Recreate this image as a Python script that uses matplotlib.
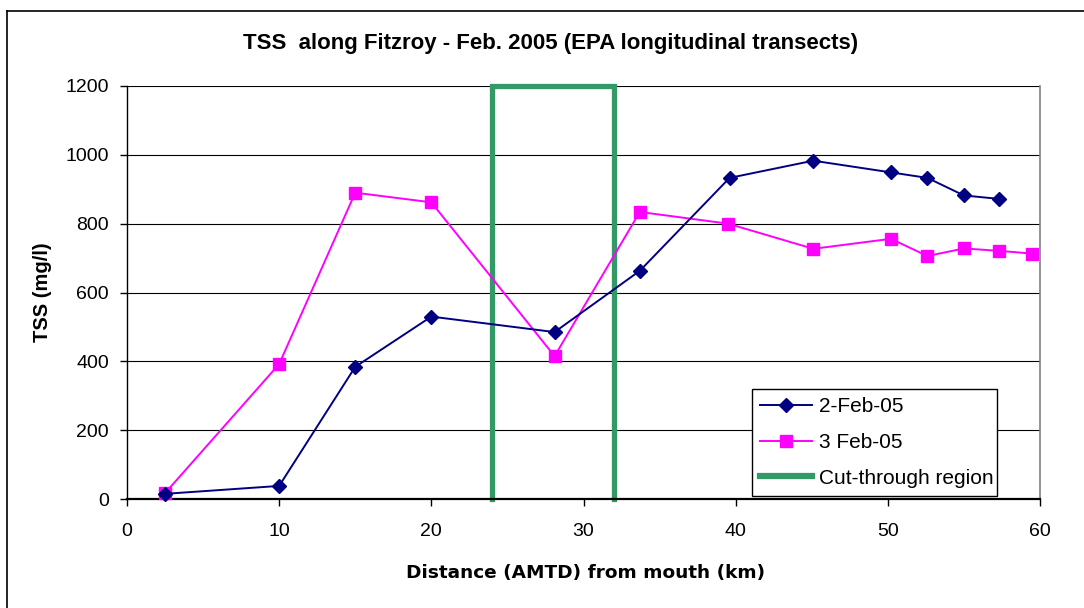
import matplotlib
matplotlib.use("Agg")
import matplotlib.pyplot as plt
from matplotlib.lines import Line2D

plt.rcParams['font.family'] = ['Liberation Sans', 'DejaVu Sans']

x_feb2 = [2.5, 10.0, 15.0, 20.0, 28.1, 33.7, 39.6, 45.1, 50.2, 52.6, 55.0, 57.3]
y_feb2 = [15, 38, 384, 530, 485, 663, 933, 983, 949, 933, 882, 872]
x_feb3 = [2.5, 10.0, 15.0, 20.0, 28.1, 33.7, 39.5, 45.1, 50.2, 52.6, 55.0, 57.3, 59.5]
y_feb3 = [17, 392, 890, 862, 415, 834, 800, 727, 756, 706, 728, 721, 713]
cut_x = [24, 24, 32, 32]
cut_y = [0, 1200, 1200, 0]

labels = ['2-Feb-05', '3 Feb-05', 'Cut-through region']
title = 'TSS  along Fitzroy - Feb. 2005 (EPA longitudinal transects)'
xlabel = 'Distance (AMTD) from mouth (km)'
ylabel = 'TSS (mg/l)'

fig = plt.figure(figsize=(10.84, 6.08), dpi=100)
ax = fig.add_axes([127/1084, 109/608, 913/1084, 413/608])

ax.set_xlim(0, 60)
ax.set_ylim(0, 1200)
ax.set_xticks(range(0, 61, 10))
ax.set_yticks(range(0, 1201, 200))
ax.yaxis.grid(True, color='black', linewidth=0.8)
ax.set_axisbelow(True)

ax.plot(cut_x, cut_y, color='#339966', linewidth=3.8, clip_on=False, zorder=2,
        solid_joinstyle='miter')
ax.plot(x_feb2, y_feb2, color='#000080', linewidth=1.4, marker='D', markersize=7,
        zorder=4, clip_on=False)
ax.plot(x_feb3, y_feb3, color='#FF00FF', linewidth=1.4, marker='s', markersize=8,
        zorder=3, clip_on=False)

ax.spines['top'].set_visible(False)
ax.spines['right'].set_color('#808080')
ax.spines['right'].set_linewidth(1.2)
ax.spines['left'].set_linewidth(1.0)
ax.spines['bottom'].set_linewidth(1.6)
ax.tick_params(axis='both', direction='out', length=5, width=1, labelsize=14, colors='black')
ax.tick_params(axis='x', pad=12)
ax.tick_params(axis='y', pad=8)

fig.text(586/1084, 1 - 573/608, xlabel, ha='center', va='center', fontsize=13.3,
         fontweight='bold', family=['DejaVu Sans'])
fig.text(42/1084, 1 - 292/608, ylabel, ha='center', va='center', rotation=90,
         fontsize=14.5, fontweight='bold')
fig.text(551/1084, 1 - 44/608, title, ha='center', va='center', fontsize=16, fontweight='bold')

handles = [
    Line2D([], [], color='#000080', linewidth=1.4, marker='D', markersize=7),
    Line2D([], [], color='#FF00FF', linewidth=1.4, marker='s', markersize=8),
    Line2D([], [], color='#339966', linewidth=4.5),
]
leg = ax.legend(handles, labels, loc='lower left', bbox_to_anchor=(0.6845, 0.007, 0.268, 0.266),
                mode='expand', fontsize=15, frameon=True, fancybox=False, framealpha=1,
                edgecolor='black', borderpad=0.4, labelspacing=0.8, handlelength=2.5,
                handletextpad=0.3, borderaxespad=0)
leg.get_frame().set_linewidth(1.0)
leg.set_zorder(10)

# chart-area border (left and top visible)
fig.add_artist(Line2D([7/1084, 7/1084], [0, 1 - 11/608], color='black', linewidth=1.2,
                      transform=fig.transFigure))
fig.add_artist(Line2D([7/1084, 1], [1 - 11/608, 1 - 11/608], color='black', linewidth=1.2,
                      transform=fig.transFigure))

fig.savefig('out.png', dpi=100)
